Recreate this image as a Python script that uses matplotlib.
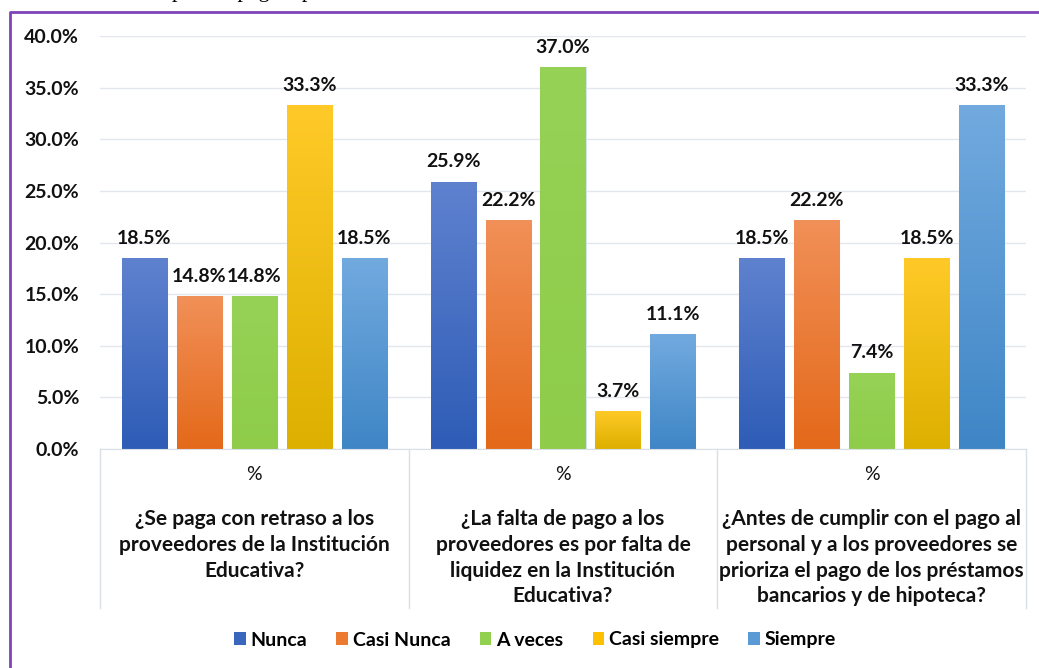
import matplotlib

matplotlib.use("Agg")
import matplotlib.pyplot as plt
import numpy as np
from matplotlib.colors import to_rgb
from matplotlib.lines import Line2D
from matplotlib.patches import Patch
from matplotlib.transforms import blended_transform_factory

series = ["Nunca", "Casi Nunca", "A veces", "Casi siempre", "Siempre"]
questions = [
    "¿Se paga con retraso a los\nproveedores de la Institución\nEducativa?",
    "¿La falta de pago a los\nproveedores es por falta de\nliquidez en la Institución\nEducativa?",
    "¿Antes de cumplir con el pago al\npersonal y a los proveedores se\nprioriza el pago de los préstamos\nbancarios y de hipoteca?",
]
values = {
    "Nunca": [18.5, 25.9, 18.5],
    "Casi Nunca": [14.8, 22.2, 22.2],
    "A veces": [14.8, 37.0, 7.4],
    "Casi siempre": [33.3, 3.7, 18.5],
    "Siempre": [18.5, 11.1, 33.3],
}
# (top, bottom) gradient colours, like the Office gradient fill
colors = {
    "Nunca": ("#5F82CF", "#2E5CB6"),
    "Casi Nunca": ("#F19058", "#E4691A"),
    "A veces": ("#96D256", "#8ECC4A"),
    "Casi siempre": ("#FFCA28", "#DDB000"),
    "Siempre": ("#72AADF", "#3F86C6"),
}
legend_colors = {
    "Nunca": "#3A66BE",
    "Casi Nunca": "#EC7A30",
    "A veces": "#92D050",
    "Casi siempre": "#FFC000",
    "Siempre": "#5B9BD5",
}

W, H = 1039, 668
FONT = "Lato"
INK = "#111111"

fig = plt.figure(figsize=(W / 100, H / 100), dpi=100)
fig.patch.set_facecolor("white")

# axes from the pixel layout of the reference
ax_left, ax_right, ax_top, ax_bottom = 100, 1026, 36, 449
ax = fig.add_axes([ax_left / W, 1 - ax_bottom / H, (ax_right - ax_left) / W, (ax_bottom - ax_top) / H])
ax_h = ax_bottom - ax_top


def frac(py):
    """pixel row below the axes -> axes fraction"""
    return (ax_bottom - py) / ax_h


x = np.arange(len(questions))
width = 0.146
step = 0.178
grad = np.linspace(0, 1, 128)[:, None]

for i, name in enumerate(series):
    pos = x + (i - 2) * step
    bars = ax.bar(pos, values[name], width, color=legend_colors[name], zorder=2,
                  edgecolor="#D6E2F2", linewidth=0.8)
    top, bot = np.array(to_rgb(colors[name][0])), np.array(to_rgb(colors[name][1]))
    img = (top + (bot - top) * grad).reshape(128, 1, 3)
    for bar, v in zip(bars, values[name]):
        im = ax.imshow(img, extent=(bar.get_x(), bar.get_x() + width, 0, v),
                       aspect="auto", zorder=2.5, interpolation="bilinear")
        im.set_clip_path(bar)
        ax.annotate(f"{v:.1f}%", (bar.get_x() + width / 2, v), xytext=(0, 8),
                    textcoords="offset points", ha="center", va="bottom",
                    fontsize=14, fontweight="bold", family=FONT, color=INK)

ax.set_xlim(-0.5, 2.5)
ax.set_ylim(0, 40)
ax.set_yticks(np.arange(0, 41, 5))
ax.set_yticklabels([f"{t:.1f}%" for t in np.arange(0, 41, 5)], fontsize=14,
                   fontweight="bold", family=FONT, color=INK)
ax.tick_params(axis="y", length=0, pad=15)
ax.set_xticks([])
ax.grid(axis="y", color="#E3E6EC", linewidth=1.0, zorder=0)
for s in ["top", "right", "left"]:
    ax.spines[s].set_visible(False)
ax.spines["bottom"].set_color("#DADFE7")

# category table below the axis
tr = blended_transform_factory(ax.transData, ax.transAxes)
for b in [-0.5, 0.5, 1.5, 2.5]:
    ax.add_line(Line2D([b, b], [0, frac(608)], transform=tr, color="#DADFE7",
                       linewidth=1.0, clip_on=False))
for i, q in enumerate(questions):
    ax.text(i, frac(475), "%", transform=tr, ha="center", va="center",
            fontsize=14, family=FONT, color=INK)
    ax.text(i, frac(509), q, transform=tr, ha="center", va="top", fontsize=15,
            fontweight="bold", family=FONT, color=INK, linespacing=1.36)

handles = [Patch(facecolor=legend_colors[n], edgecolor="none") for n in series]
fig.legend(handles, series, loc="center", bbox_to_anchor=(535 / W, 1 - 640 / H), ncol=5,
           frameon=False, prop={"family": FONT, "weight": "bold", "size": 14},
           handlelength=0.6, handleheight=0.6, handletextpad=0.25, columnspacing=1.5)

# purple frame of the pasted chart, cut at right and bottom
fig.add_artist(Line2D([10 / W, 10 / W, 1.0], [0.0, 1 - 12 / H, 1 - 12 / H],
                      transform=fig.transFigure, color="#7F44B8", linewidth=2.0))
# document text above, mostly cut off as in the reference
fig.text(172 / W, 1 + 3 / H, "para el pago a proveedores", ha="left", va="baseline",
         family="Liberation Serif", fontsize=16, color="black")

fig.savefig("out.png", dpi=100)
